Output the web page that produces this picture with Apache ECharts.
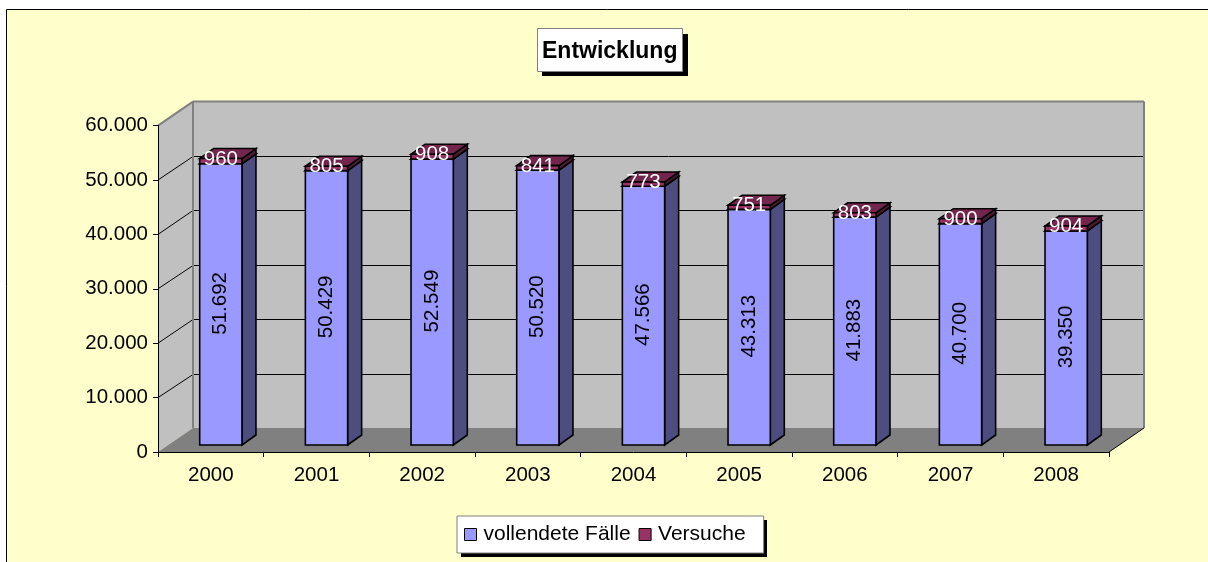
<!DOCTYPE html>
<html>
<head>
<meta charset="utf-8">
<title>Entwicklung</title>
<style>
    html, body {margin: 0; padding: 0; background: #fff;}
    #chart {width: 1208px; height: 562px;}
</style>
<script src="https://cdn.jsdelivr.net/npm/echarts@6/dist/echarts.min.js"></script>
</head>
<body>
<div id="chart"></div>
<script>
const years = ['2000', '2001', '2002', '2003', '2004', '2005', '2006', '2007', '2008'];
const vollendeteFaelle = [51692, 50429, 52549, 50520, 47566, 43313, 41883, 40700, 39350];
const versuche = [960, 805, 908, 841, 773, 751, 803, 900, 904];
const yTicks = [10000, 20000, 30000, 40000, 50000, 60000];

const FONT = '"Liberation Sans", Arial, sans-serif';
// fake 3d: how far the back wall and the bars sit behind the front plane, in px
const WALL = {dx: 35, dy: -24};
const BAR_FRONT = {dx: 10, dy: -7};
const BAR_DEPTH = {dx: 14, dy: -10};

function formatDe(v) {
    return String(v).replace(/\B(?=(\d{3})+$)/g, '.');
}

function poly(points, fill, stroke, lineWidth) {
    return {
        type: 'polygon',
        shape: {points: points},
        style: {fill: fill, stroke: stroke, lineWidth: lineWidth, lineJoin: 'miter'}
    };
}

function line(x1, y1, x2, y2, stroke, lineWidth) {
    return {
        type: 'line',
        shape: {x1: x1, y1: y1, x2: x2, y2: y2},
        style: {stroke: stroke, lineWidth: lineWidth}
    };
}

function renderWalls(params, api) {
    const cs = params.coordSys;
    const x0 = cs.x, x1 = cs.x + cs.width;
    const yZero = api.coord([0, 0])[1];
    const yTop = api.coord([0, 60000])[1];
    const children = [
        poly([[x0, yZero], [x0 + WALL.dx, yZero + WALL.dy], [x0 + WALL.dx, yTop + WALL.dy], [x0, yTop]], '#C0C0C0', null, 0),
        poly([[x0 + WALL.dx, yZero + WALL.dy], [x1 + WALL.dx, yZero + WALL.dy], [x1 + WALL.dx, yTop + WALL.dy], [x0 + WALL.dx, yTop + WALL.dy]], '#C0C0C0', null, 0),
        poly([[x0, yZero], [x1, yZero], [x1 + WALL.dx, yZero + WALL.dy], [x0 + WALL.dx, yZero + WALL.dy]], '#808080', null, 0)
    ];
    yTicks.forEach(function (t) {
        const y = api.coord([0, t])[1];
        if (t < 60000) {
            const yBack = Math.round(y + WALL.dy) + 0.5;
            children.push(line(x0 + WALL.dx, yBack, x1 + WALL.dx, yBack, '#000', 1));
            children.push(line(x0, y, x0 + WALL.dx, yBack, '#000', 1));
        }
    });
    children.push(line(x0, yTop, x0 + WALL.dx, yTop + WALL.dy, '#808080', 2));
    children.push(line(x0 + WALL.dx, yTop + WALL.dy, x1 + WALL.dx, yTop + WALL.dy, '#808080', 2));
    children.push(line(x0 + WALL.dx, yTop + WALL.dy, x0 + WALL.dx, yZero + WALL.dy, '#808080', 2));
    children.push(line(x1 + WALL.dx, yTop + WALL.dy, x1 + WALL.dx, yZero + WALL.dy, '#808080', 2));
    children.push(line(x1, yZero, x1 + WALL.dx, yZero + WALL.dy, '#000', 1));
    return {type: 'group', children: children};
}

function makeBar(colors, labelFn) {
    return function (params, api) {
        const i = api.value(0);
        const start = api.coord([i, api.value(1)]);
        const end = api.coord([i, api.value(2)]);
        const w = api.size([1, 0])[0] * 0.4;
        const l = start[0] - w / 2 + BAR_FRONT.dx;
        const r = l + w;
        const b = start[1] + BAR_FRONT.dy;
        const t = end[1] + BAR_FRONT.dy;
        const d = BAR_DEPTH;
        return {
            type: 'group',
            children: [
                poly([[r, b], [r + d.dx, b + d.dy], [r + d.dx, t + d.dy], [r, t]], colors.side, '#000', 1.6),
                poly([[l, t], [r, t], [r + d.dx, t + d.dy], [l + d.dx, t + d.dy]], colors.top, '#000', 1.6),
                poly([[l, b], [r, b], [r, t], [l, t]], colors.front, '#000', 1.6),
                labelFn((l + r) / 2, b, t, api.value(2) - api.value(1))
            ]
        };
    };
}

function insideLabel(cx, b, t, v) {
    return {
        type: 'text',
        x: cx,
        y: (b + t) / 2 - 1,
        rotation: Math.PI / 2,
        style: {
            text: formatDe(v), fill: '#000', font: '20.5px ' + FONT,
            align: 'center', verticalAlign: 'middle'
        }
    };
}

function topLabel(cx, b, t, v) {
    return {
        type: 'text',
        x: cx,
        y: (b + t) / 2 - 2,
        z2: 10,
        style: {
            text: formatDe(v), fill: '#fff', font: '20.5px ' + FONT,
            align: 'center', verticalAlign: 'middle'
        }
    };
}

const chart = echarts.init(document.getElementById('chart'), null, {renderer: 'canvas'});

const option = {
    animation: false,
    backgroundColor: '#fff',
    textStyle: {fontFamily: FONT},
    graphic: [
        {
            type: 'rect',
            z: -100,
            shape: {x: 6.5, y: 9.5, width: 1300, height: 700},
            style: {fill: '#FFFFCC', stroke: '#000', lineWidth: 1}
        },
        // title and legend box shadows, hard black offsets
        {
            type: 'rect',
            z: 1,
            shape: {x: 542, y: 34, width: 146, height: 42},
            style: {fill: '#000'}
        },
        {
            type: 'rect',
            z: 1,
            shape: {x: 461, y: 520, width: 306, height: 37},
            style: {fill: '#000'}
        }
    ],
    title: {
        text: 'Entwicklung',
        left: 537,
        top: 29,
        padding: [12, 5, 8, 5],
        backgroundColor: '#fff',
        borderColor: '#808080',
        borderWidth: 1,
        textStyle: {fontFamily: FONT, fontSize: 23, fontWeight: 'bold', color: '#000', lineHeight: 22}
    },
    legend: {
        data: ['vollendete Fälle', 'Versuche'],
        left: 457,
        top: 516,
        orient: 'horizontal',
        padding: [8, 18, 8, 7],
        itemGap: 8,
        itemWidth: 12,
        itemHeight: 12,
        icon: 'rect',
        backgroundColor: '#fff',
        borderColor: '#808080',
        borderWidth: 1,
        borderRadius: 0,
        itemStyle: {borderColor: '#000', borderWidth: 1},
        textStyle: {fontFamily: FONT, fontSize: 21, color: '#000', padding: [0, 0, 0, 2]}
    },
    grid: {left: 158, right: 99, top: 125.6, bottom: 110, containLabel: false},
    xAxis: {
        type: 'category',
        data: years,
        axisLine: {lineStyle: {color: '#000', width: 1}},
        axisTick: {show: true, alignWithLabel: false, length: 5, lineStyle: {color: '#000'}},
        axisLabel: {fontFamily: FONT, fontSize: 20.5, color: '#000', margin: 13},
        splitLine: {show: false}
    },
    yAxis: {
        type: 'value',
        min: 0,
        max: 60000,
        interval: 10000,
        axisLine: {show: true, lineStyle: {color: '#000', width: 1}},
        axisTick: {show: true, length: 5, lineStyle: {color: '#000'}},
        axisLabel: {fontFamily: FONT, fontSize: 20.5, color: '#000', margin: 10, formatter: formatDe},
        splitLine: {show: false}
    },
    series: [
        {
            name: 'walls',
            type: 'custom',
            z: -1,
            silent: true,
            renderItem: renderWalls,
            data: [0]
        },
        {
            name: 'vollendete Fälle',
            type: 'custom',
            z: 3,
            itemStyle: {color: '#9999FF'},
            renderItem: makeBar({front: '#9999FF', side: '#4D4D80', top: '#73264D'}, insideLabel),
            encode: {x: 0, y: [1, 2]},
            data: vollendeteFaelle.map(function (v, i) {
                return [i, 0, v];
            })
        },
        {
            name: 'Versuche',
            type: 'custom',
            z: 4,
            itemStyle: {color: '#993366'},
            renderItem: makeBar({front: '#993366', side: '#4D1A33', top: '#73264D'}, topLabel),
            encode: {x: 0, y: [1, 2]},
            data: versuche.map(function (v, i) {
                return [i, vollendeteFaelle[i], vollendeteFaelle[i] + v];
            })
        }
    ]
};

chart.setOption(option);
</script>
</body>
</html>
